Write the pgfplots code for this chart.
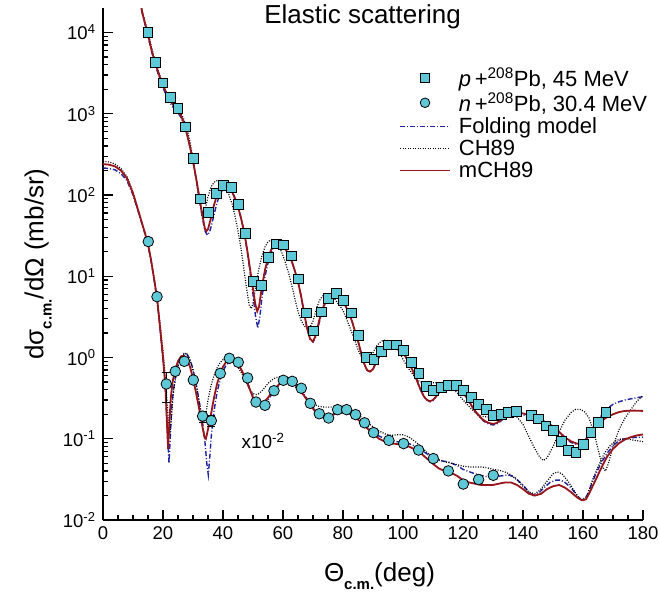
\documentclass[border=0pt]{standalone}
\usepackage{pgfplots}
\pgfplotsset{compat=1.18}
\usepackage{fontspec}
\setmainfont{Liberation Sans}
\definecolor{mfill}{RGB}{95,200,215}
\definecolor{mred}{RGB}{150,22,28}
\definecolor{mblue}{RGB}{30,35,160}
\newcommand{\cm}{\raisebox{-0.32em}{\fontsize{15}{15}\selectfont\textbf{c.m.}}}
\begin{document}
\begin{tikzpicture}
\useasboundingbox (-103pt,-83pt) rectangle (556pt,520pt);
\begin{axis}[
  at={(0pt,0pt)}, anchor=south west,
  scale only axis, width=540pt, height=512pt,
  xmin=0, xmax=180, ymin=1e-2, ymax=2e4, ymode=log,
  axis lines=left, axis line style={-, line width=1.5pt},
  tick align=inside,
  major tick length=10pt, minor tick length=5pt,
  every tick/.style={black, line width=1.2pt},
  xtick={0,20,...,180}, minor x tick num=3,
  ytick={1e-2,1e-1,1,10,100,1000,10000},
  yticklabels={10\textsuperscript{-2},10\textsuperscript{-1},10\textsuperscript{0},10\textsuperscript{1},10\textsuperscript{2},10\textsuperscript{3},10\textsuperscript{4}},
  /pgf/number format/assume math mode=true,
  tick label style={font=\fontsize{18.5}{20}\selectfont},
  xticklabel style={yshift=-3pt},
  yticklabel style={xshift=-4pt},
  xlabel={Θ\cm(deg)},
  ylabel={dσ\cm/dΩ (mb/sr)},
  label style={font=\fontsize{26}{28}\selectfont},
  xlabel style={at={(axis description cs:0.512,0)}, anchor=base, yshift=-61pt},
  ylabel style={at={(axis description cs:-0.12,0.5)}, anchor=center},
  clip mode=individual,
  legend style={at={(axis description cs:0.548,0.883)}, anchor=north west, draw=none, fill=none,
    inner sep=0pt, nodes={inner sep=0pt}, column sep=8pt, row sep=5pt,
    font=\fontsize{22}{24}\selectfont, cells={anchor=west}},
  mylegend/.style={legend image code/.code={\draw[mark repeat=2,mark phase=2] plot coordinates {(0pt,0pt) (25pt,0pt) (50pt,0pt)};}},
]
\addlegendimage{only marks, mark=square*, mark size=4.4pt, mark options={fill=mfill, draw=black, line width=0.8pt}, mylegend}
\addlegendentry{\textit{p}\,+\textsuperscript{208}Pb, 45 MeV}
\addlegendimage{only marks, mark=*, mark size=4.8pt, mark options={fill=mfill, draw=black, line width=0.8pt}, mylegend}
\addlegendentry{\textit{n}\,+\textsuperscript{208}Pb, 30.4 MeV}
\addlegendimage{mblue, line width=1.4pt, dash pattern=on 5pt off 2pt on 1pt off 2pt, mylegend}
\addlegendentry{Folding model}
\addlegendimage{black, line width=1.2pt, dash pattern=on 1pt off 1.5pt, mylegend}
\addlegendentry{CH89}
\addlegendimage{mred, line width=1.8pt, mylegend}
\addlegendentry{mCH89}

% ---------- proton: Folding ----------
\addplot[forget plot, mblue, line width=1.4pt, dash pattern=on 5pt off 2pt on 1pt off 2pt] coordinates {
(12.5,24000)(13,18000)(14,12500)(15,9000)(16,6200)(17,4500)(18,3400)(19,2650)(20,2100)(21,1700)(22,1420)(23,1250)(24,1130)(25,1020)(26,900)(27,740)(28,560)(29,390)(30,260)(31,160)(32,95)(33,55)(34,36)(34.8,32)(35.5,35)(36,40)(37,57)(38,80)(39,102)(40,118)(41,127)(42,126)(43,112)(44,92)(45,72)(46,52)(47,35)(48,21)(49,11.5)(50,6)(50.8,3.3)(51.6,2.3)(52.3,3.2)(53,5.5)(54,10)(55,14.5)(56,19.5)(57,23)(58,25)(59,25)(60,23.5)(61,21)(62,18)(63,15)(64,11.5)(65,8.5)(66,5.8)(67,3.6)(68,2.3)(69,1.7)(70,1.55)(71,1.8)(72,2.6)(73,3.6)(74,4.6)(75,5.3)(76,5.8)(77,6.1)(78,6.0)(79,5.6)(80,4.9)(81,4.2)(82,3.5)(83,2.8)(84,2.1)(85,1.6)(86,1.15)(87,0.85)(88,0.7)(89,0.66)(90,0.72)(91,0.86)(92,1.02)(93,1.18)(94,1.32)(95,1.42)(96,1.47)(97,1.46)(98,1.4)(99,1.3)(100,1.15)(101,1)(102,0.85)(103,0.72)(104,0.6)(105,0.48)(106,0.39)(107,0.33)(108,0.3)(109,0.285)(110,0.295)(111,0.33)(112,0.37)(113,0.41)(114,0.44)(115,0.46)(116,0.465)(117,0.46)(118,0.44)(119,0.41)(120,0.37)(121,0.33)(122,0.29)(123,0.25)(124,0.22)(125,0.195)(126,0.178)(127,0.164)(128,0.155)(129,0.15)(130,0.148)(131,0.15)(132,0.158)(133,0.17)(134,0.185)(135,0.195)(136,0.2)(138,0.2)(140,0.195)(142,0.188)(144,0.18)(146,0.168)(148,0.155)(150,0.14)(152,0.12)(154,0.102)(156,0.09)(158,0.085)(159,0.085)(160,0.09)(161,0.1)(162,0.115)(164,0.15)(166,0.19)(168,0.235)(170,0.265)(172,0.285)(174,0.3)(176,0.31)(178,0.32)(180,0.33)
};
% ---------- proton: CH89 ----------
\addplot[forget plot, black, line width=1.2pt, dash pattern=on 1pt off 1.5pt] coordinates {
(12.5,25000)(13,19000)(14,13500)(15,10000)(16,7000)(17,5000)(18,3800)(19,2900)(20,2300)(21,1850)(22,1550)(23,1350)(24,1200)(25,1100)(26,1000)(27,850)(28,650)(29,450)(30,280)(31,160)(32,90)(32.8,65)(33.5,60)(34.2,70)(35,95)(36,125)(37,143)(38,150)(39,150)(40,140)(41,122)(42,100)(43,78)(44,55)(45,36)(46,22)(47,12)(48,6.5)(48.8,4.3)(49.5,4)(50.2,5)(51,8)(52,12.5)(53,18)(54,23)(55,26.5)(56,28)(57,27.5)(58,25.5)(59,22)(60,18)(61,14)(62,10.5)(63,7.5)(64,5.2)(65,3.7)(66,2.9)(67,2.45)(68,2.3)(69,2.35)(70,2.8)(71,3.8)(72,4.9)(73,5.6)(74,6)(75,6.1)(76,5.9)(77,5.4)(78,4.8)(79,4.3)(80,3.8)(81,3.1)(82,2.5)(83,2)(84,1.6)(85,1.25)(86,1.05)(87,0.95)(88,0.93)(89,1)(90,1.15)(91,1.35)(92,1.5)(93,1.6)(94,1.63)(95,1.62)(96,1.55)(97,1.45)(98,1.3)(99,1.12)(100,0.95)(101,0.82)(102,0.72)(103,0.64)(104,0.57)(105,0.52)(106,0.5)(108,0.49)(110,0.49)(112,0.49)(114,0.47)(116,0.43)(118,0.37)(120,0.3)(122,0.25)(124,0.21)(126,0.19)(128,0.185)(130,0.19)(132,0.2)(134,0.205)(136,0.2)(138,0.185)(140,0.15)(142,0.105)(144,0.075)(145.5,0.06)(146.8,0.054)(148,0.058)(150,0.08)(152,0.12)(154,0.17)(156,0.21)(157.5,0.23)(159,0.23)(160.5,0.215)(162,0.18)(163.5,0.125)(165,0.075)(166.5,0.045)(167.5,0.04)(168.5,0.05)(170,0.08)(172,0.13)(174,0.18)(176,0.23)(178,0.29)(180,0.34)
};
% ---------- proton: mCH89 ----------
\addplot[forget plot, mred, line width=1.8pt] coordinates {
(12.5,24000)(13,18000)(14,13000)(15,9500)(16,6500)(17,4700)(18,3600)(19,2800)(20,2250)(21,1850)(22,1550)(23,1350)(24,1200)(25,1080)(26,940)(27,760)(28,560)(29,390)(30,260)(31,165)(32,100)(33,60)(34,38)(34.5,36)(35,38)(36,52)(37,75)(38,100)(39,120)(40,130)(41,132)(42,125)(43,110)(44,90)(45,72)(46,52)(47,36)(48,22)(49,12.5)(50,7)(50.8,4.5)(51.4,3.7)(52,4.2)(53,7.5)(54,12)(55,16.5)(56,21)(57,24)(58,25.5)(59,25)(60,23.5)(61,21)(62,18)(63,15)(64,11.5)(65,8.5)(66,5.8)(67,3.6)(68,2.3)(69,1.7)(70,1.57)(71,1.9)(72,2.8)(73,3.8)(74,4.7)(75,5.4)(76,5.9)(77,6.1)(78,6)(79,5.6)(80,4.9)(81,4.2)(82,3.5)(83,2.8)(84,2.1)(85,1.6)(86,1.15)(87,0.85)(88,0.7)(89,0.67)(90,0.72)(91,0.86)(92,1.02)(93,1.18)(94,1.32)(95,1.42)(96,1.47)(97,1.46)(98,1.4)(99,1.3)(100,1.15)(101,1)(102,0.85)(103,0.72)(104,0.6)(105,0.48)(106,0.39)(107,0.33)(108,0.3)(109,0.29)(110,0.3)(111,0.33)(112,0.37)(113,0.41)(114,0.44)(115,0.46)(116,0.465)(117,0.46)(118,0.44)(119,0.41)(120,0.37)(121,0.33)(122,0.29)(123,0.25)(124,0.22)(125,0.2)(126,0.18)(127,0.168)(128,0.16)(129,0.155)(130,0.153)(131,0.155)(132,0.163)(133,0.175)(134,0.19)(135,0.2)(136,0.208)(137,0.21)(138,0.21)(140,0.205)(142,0.195)(144,0.182)(146,0.17)(148,0.158)(150,0.142)(152,0.122)(154,0.104)(156,0.093)(158,0.087)(159,0.087)(160,0.09)(161,0.098)(162,0.11)(163,0.125)(164,0.138)(165,0.15)(166,0.163)(168,0.185)(170,0.2)(172,0.213)(174,0.22)(177,0.222)(180,0.22)
};
% ---------- neutron: Folding ----------
\addplot[forget plot, mblue, line width=1.4pt, dash pattern=on 5pt off 2pt on 1pt off 2pt] coordinates {
(0,215)(2,212)(4,204)(6,183)(8,150)(10,100)(12,58)(13,44)(14,33)(15,24)(16,15.5)(17,9.2)(18,5.2)(19,2.3)(20,0.95)(20.8,0.4)(21.4,0.15)(22,0.05)(22.5,0.12)(23,0.28)(24,0.55)(25,0.8)(26,1)(27,1.12)(28,1.1)(29,0.95)(30,0.72)(31,0.48)(32,0.3)(33,0.18)(34,0.09)(34.6,0.05)(35.1,0.036)(35.6,0.06)(36.2,0.12)(37,0.22)(38,0.37)(39,0.52)(40,0.68)(41,0.8)(42,0.87)(43,0.9)(44,0.88)(45,0.82)(46,0.73)(47,0.62)(48,0.51)(49,0.41)(50,0.33)(51,0.28)(52,0.26)(53,0.26)(54,0.275)(55,0.3)(56,0.34)(57,0.38)(58,0.43)(59,0.47)(60,0.5)(61,0.515)(62,0.515)(63,0.5)(64,0.47)(65,0.43)(66,0.39)(67,0.35)(68,0.31)(69,0.27)(70,0.24)(71,0.215)(72,0.2)(73,0.19)(74,0.188)(75,0.19)(76,0.196)(77,0.204)(78,0.21)(79,0.215)(80,0.216)(81,0.214)(82,0.208)(83,0.2)(84,0.19)(85,0.178)(86,0.165)(87,0.152)(88,0.14)(89,0.13)(90,0.122)(92,0.108)(94,0.1)(96,0.095)(98,0.092)(100,0.09)(102,0.087)(105,0.078)(108,0.065)(110,0.058)(112,0.054)(115,0.052)(118,0.047)(120,0.042)(124,0.037)(128,0.034)(130,0.034)(133,0.035)(135,0.036)(137,0.034)(140,0.027)(142,0.022)(143.5,0.02)(145,0.021)(147,0.025)(149,0.029)(151,0.031)(152.5,0.031)(154,0.029)(156,0.025)(158,0.02)(159.5,0.0175)(161,0.019)(162,0.023)(164,0.035)(166,0.05)(168,0.066)(170,0.082)(172,0.095)(174,0.1)(176,0.103)(178,0.104)(180,0.105)
};
% ---------- neutron: CH89 ----------
\addplot[forget plot, black, line width=1.2pt, dash pattern=on 1pt off 1.5pt] coordinates {
(0,260)(2,255)(4,240)(6,212)(8,168)(10,108)(12,60)(13,45)(14,34)(15,25)(16,16)(17,9.6)(18,5.6)(19,2.6)(20,1.2)(21,0.45)(21.7,0.18)(22.3,0.12)(22.9,0.2)(23.5,0.38)(24.5,0.65)(25.5,0.9)(26.5,1.08)(27.5,1.12)(28.5,1.02)(29.5,0.82)(30.5,0.58)(31.5,0.38)(32.3,0.25)(33,0.18)(33.6,0.16)(34.3,0.2)(35,0.3)(36,0.45)(37,0.6)(38,0.74)(39,0.86)(40,0.94)(41,0.97)(42,0.96)(43,0.92)(44,0.85)(45,0.76)(46,0.66)(47,0.56)(48,0.47)(49,0.4)(50,0.36)(51,0.35)(52,0.36)(53,0.39)(54,0.43)(55,0.48)(56,0.52)(57,0.55)(58,0.57)(59,0.575)(60,0.57)(61,0.55)(62,0.52)(63,0.48)(64,0.44)(65,0.4)(66,0.37)(67,0.34)(68,0.31)(69,0.29)(70,0.27)(72,0.25)(74,0.245)(76,0.245)(78,0.248)(80,0.245)(82,0.232)(84,0.21)(86,0.185)(88,0.16)(90,0.14)(92,0.125)(94,0.115)(96,0.11)(98,0.112)(100,0.112)(102,0.105)(104,0.093)(106,0.08)(108,0.068)(110,0.06)(112,0.055)(114,0.052)(116,0.05)(118,0.048)(120,0.046)(122,0.045)(124,0.045)(126,0.045)(128,0.044)(130,0.042)(132,0.041)(134,0.039)(136,0.036)(138,0.031)(140,0.026)(142,0.022)(144,0.021)(146,0.024)(148,0.03)(150,0.037)(151.5,0.039)(153,0.037)(155,0.03)(157,0.023)(158.5,0.019)(160,0.0175)(161.5,0.02)(163,0.03)(165,0.045)(167,0.065)(169,0.082)(171,0.095)(173,0.1)(175,0.099)(177,0.096)(180,0.092)
};
% ---------- neutron: mCH89 ----------
\addplot[forget plot, mred, line width=1.8pt] coordinates {
(0,240)(2,236)(4,225)(6,200)(8,160)(10,105)(12,60)(13,45)(14,34)(15,25)(16,16)(17,9.5)(18,5.4)(19,2.4)(20,1)(20.8,0.45)(21.3,0.16)(21.7,0.075)(22.1,0.15)(22.6,0.32)(23.2,0.5)(24,0.7)(25,0.9)(26,1.03)(27,1.05)(28,0.95)(29,0.77)(30,0.55)(31,0.37)(32,0.24)(33,0.15)(33.8,0.105)(34.3,0.1)(35,0.13)(36,0.2)(37,0.32)(38,0.47)(39,0.62)(40,0.77)(41,0.88)(42,0.93)(43,0.93)(44,0.89)(45,0.82)(46,0.72)(47,0.61)(48,0.5)(49,0.4)(50,0.32)(51,0.28)(52,0.265)(53,0.27)(54,0.29)(55,0.32)(56,0.36)(57,0.4)(58,0.44)(59,0.48)(60,0.505)(61,0.515)(62,0.51)(63,0.49)(64,0.46)(65,0.42)(66,0.38)(67,0.34)(68,0.3)(69,0.265)(70,0.235)(71,0.21)(72,0.195)(73,0.187)(74,0.185)(75,0.187)(76,0.192)(77,0.2)(78,0.207)(79,0.212)(80,0.213)(81,0.21)(82,0.205)(83,0.196)(84,0.185)(85,0.172)(86,0.16)(87,0.147)(88,0.135)(89,0.124)(90,0.115)(92,0.1)(94,0.092)(96,0.088)(98,0.086)(100,0.084)(102,0.08)(104,0.074)(106,0.066)(108,0.057)(110,0.049)(112,0.043)(114,0.04)(116,0.038)(118,0.035)(120,0.031)(122,0.029)(124,0.028)(126,0.027)(128,0.027)(130,0.027)(132,0.028)(134,0.029)(136,0.029)(138,0.027)(140,0.024)(142,0.021)(144,0.02)(146,0.021)(148,0.024)(150,0.026)(152,0.027)(154,0.025)(156,0.022)(158,0.019)(159,0.018)(160,0.0175)(161,0.018)(162,0.021)(164,0.03)(166,0.043)(168,0.06)(170,0.075)(172,0.088)(174,0.098)(176,0.105)(178,0.11)(180,0.113)
};
% ---------- error bars ----------
\addplot[forget plot, only marks, mark=none, black, error bars/.cd, y dir=both, y explicit,
  error bar style={black, line width=0.8pt}, error mark options={rotate=90, mark size=4pt, black, line width=0.8pt}]
  coordinates {(21.1,0.472) +- (0,0.19) (33.2,0.19) +- (0,0.03) (36.1,0.167) +- (0,0.025)};
% ---------- data ----------
\addplot[forget plot, only marks, mark=square*, mark size=4.9pt, mark options={fill=mfill, draw=black, line width=0.8pt}] coordinates {
(15.0,10100)(17.6,4270)(20.0,2400)(22.4,1585)(25.0,1172)(27.6,690)(30.1,279)(32.6,89.6)(35.1,61.4)(37.7,105)(40.1,132)(42.7,123)(45.1,77)(47.6,33.9)(50.1,8.6)(52.7,7.65)(55.1,17.1)(57.7,25)(60.1,24.3)(62.7,17.8)(65.2,9.26)(67.7,3.53)(70.1,2.12)(72.7,3.63)(75.2,5.36)(77.7,6.1)(80.2,5.0)(82.7,3.53)(85.2,1.89)(87.8,1.0)(90.3,0.95)(92.8,1.18)(95.2,1.43)(97.8,1.43)(100.2,1.21)(102.8,0.87)(105.3,0.63)(107.7,0.44)(110.1,0.398)(112.7,0.425)(115.2,0.45)(117.7,0.455)(120.1,0.398)(122.7,0.324)(125.2,0.262)(127.7,0.23)(130.2,0.196)(132.7,0.2)(135.1,0.209)(137.7,0.219)(142.7,0.194)(145.1,0.176)(147.6,0.144)(150.1,0.128)(152.7,0.092)(155.1,0.072)(157.6,0.0686)(160.0,0.085)(162.6,0.12)(165.1,0.16)(167.6,0.211)
};
\addplot[forget plot, only marks, mark=*, mark size=5.3pt, mark options={fill=mfill, draw=black, line width=0.8pt}] coordinates {
(15.1,26.7)(18.0,5.6)(21.1,0.472)(24.1,0.676)(27.1,0.898)(30.1,0.528)(33.2,0.19)(36.1,0.167)(39.1,0.638)(42.1,0.977)(45.1,0.873)(48.2,0.56)(51.0,0.283)(54.0,0.258)(57.0,0.39)(60.1,0.524)(63.1,0.509)(66.1,0.418)(69.1,0.273)(72.1,0.203)(75.2,0.18)(78.2,0.228)(81.2,0.228)(84.2,0.198)(87.2,0.157)(90.2,0.119)(95.3,0.0955)(100.2,0.0872)(105.2,0.0726)(110.1,0.057)(115.1,0.0402)(120.1,0.0277)(125.2,0.0315)(130.1,0.0355)
};
\node[anchor=base, font=\fontsize{26}{28}\selectfont] at (rel axis cs:0.4806,0.969) {Elastic scattering};
\node[anchor=west, font=\fontsize{19}{20}\selectfont] at (axis cs:45,0.093) {x10\textsuperscript{-2}};
\end{axis}
\end{tikzpicture}
\end{document}
